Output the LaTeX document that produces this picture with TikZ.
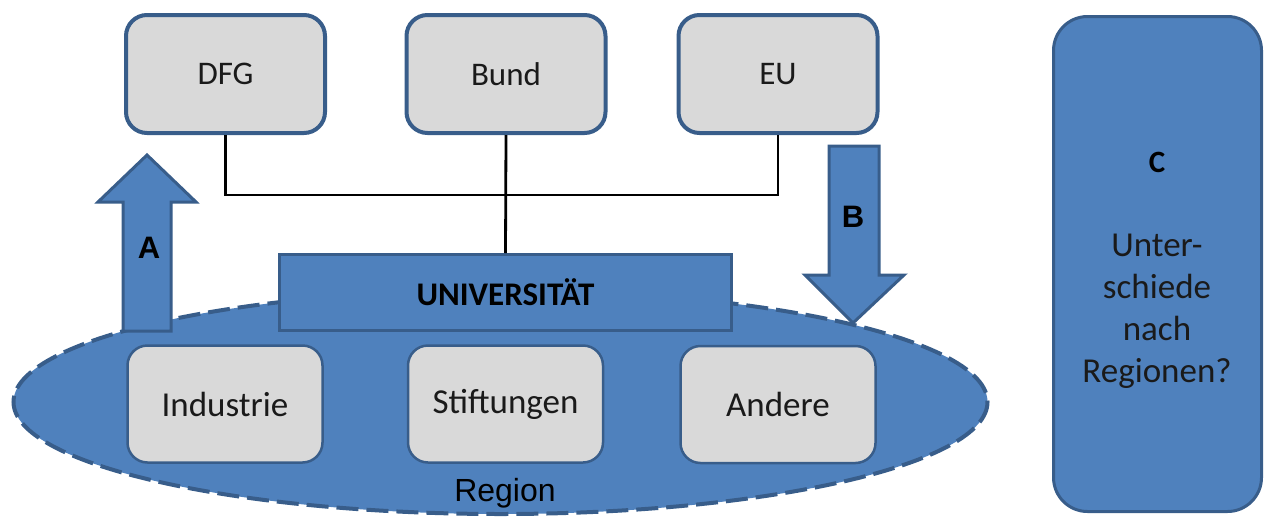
\documentclass[tikz,border=0pt]{standalone}
\usepackage{fontspec}
\setmainfont{Carlito}
\newfontfamily\arialf{Liberation Sans}
\definecolor{ofblue}{HTML}{4F81BD}
\definecolor{ofdark}{HTML}{385D8A}
\definecolor{ofgray}{HTML}{D9D9D9}
\definecolor{txt}{HTML}{1A1A1A}
\tikzset{
  topbox/.style={draw=ofdark, line width=4pt, fill=ofgray, rounded corners=21pt,
    minimum width=199pt, minimum height=118pt, inner sep=0pt,
    font=\fontsize{33}{40}\selectfont, text=txt},
  lowbox/.style={draw=ofdark, line width=2.5pt, fill=ofgray, rounded corners=20pt,
    minimum width=195pt, minimum height=117pt, inner sep=0pt,
    font=\fontsize{35}{40}\selectfont, text=txt},
  bluebox/.style={draw=ofdark, line width=3pt, fill=ofblue, inner sep=0pt},
  blockarrow/.style={draw=ofdark, line width=3pt, fill=ofblue, line join=miter},
  conn/.style={draw=black, line width=2.8pt},
  arrowlabel/.style={font=\arialf\bfseries\fontsize{31}{36}\selectfont, text=black}
}
\begin{document}
\begin{tikzpicture}[x=1pt,y=-1pt]
\useasboundingbox (0,0) rectangle (1266,517);
% region ellipse
\path[fill=ofblue] (500.5,402) ellipse [x radius=487, y radius=112];
\draw[ofdark, line width=4pt, dash pattern=on 22pt off 8pt] (500.5,402) ellipse [x radius=487, y radius=112];
\node[font=\arialf\fontsize{32}{38}\selectfont, text=black] (region) at (505,493) {Region};
% arrows
\draw[blockarrow] (123,331) -- (123,202) -- (98,202) -- (147,155) -- (196,202) -- (171,202) -- (171,331) -- cycle;
\node[arrowlabel] (la) at (149,248) {A};
\draw[blockarrow] (829,146) -- (879,146) -- (879,275) -- (904,275) -- (853,323) -- (805,275) -- (829,275) -- cycle;
\node[arrowlabel] (lb) at (853,217) {B};
% top boxes
\node[topbox] (dfg) at (225.5,74) {DFG};
\node[topbox] (bund) at (506,74) {Bund};
\node[topbox] (eu) at (778,74) {EU};
% universitaet
\node[bluebox, minimum width=452pt, minimum height=76pt,
  font=\bfseries\fontsize{33}{40}\selectfont, text=black] (uni) at (505.5,292.5) {UNIVERSITÄT};
% connectors
\coordinate (j) at (506,195);
\draw[conn] (dfg.south) |- (j) -| (eu.south);
\draw[conn] (bund.south) -- (uni.north);
% lower boxes
\node[lowbox] (ind) at (225,404) {Industrie};
\node[lowbox] (stift) at (505.5,404) {Stiftungen};
\node[lowbox] (andere) at (778,404.5) {Andere};
% C box
\node[bluebox, rounded corners=34pt, minimum width=208pt, minimum height=495pt] (cbox) at (1157.5,264) {};
\node[font=\bfseries\fontsize{31}{36}\selectfont, text=black] (clabel) at (1157,162) {C};
\node[font=\fontsize{35}{42}\selectfont, text=txt, align=center, anchor=center] (ctext) at (1157,311)
  {Unter-\\schiede\\nach\\Regionen?};
\end{tikzpicture}
\end{document}
